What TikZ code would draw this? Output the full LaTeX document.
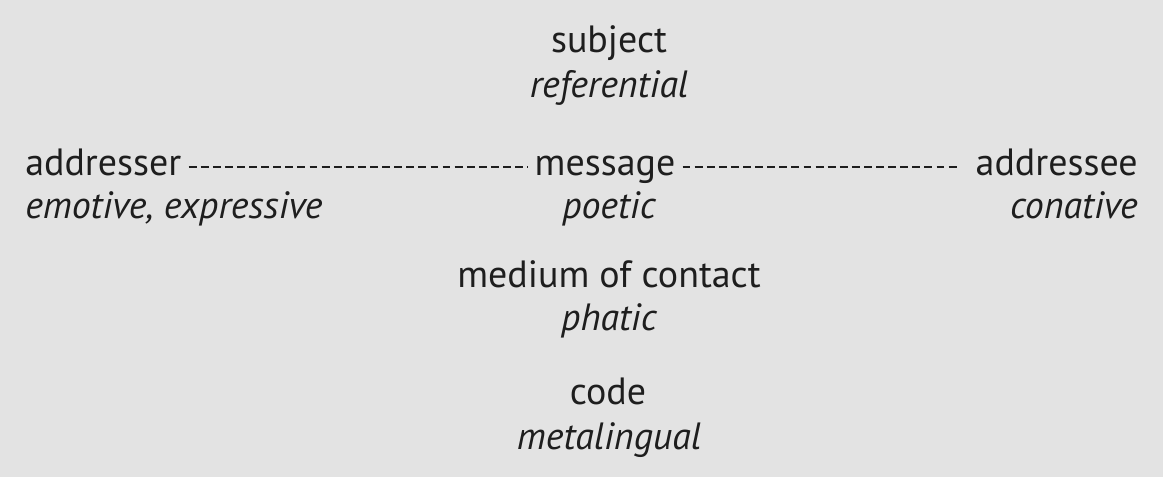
\documentclass[tikz,border=0pt]{standalone}
\usepackage{fontspec}
\setmainfont{PT Sans}
\usepackage{tikz}
\usetikzlibrary{positioning}
\definecolor{panelgray}{RGB}{227,227,227}
\definecolor{inkgray}{RGB}{30,30,30}
\tikzset{
  factor/.style={inner sep=0pt,anchor=base,text=inkgray,font=\fontsize{27}{30}\selectfont},
  function/.style={factor,font=\fontsize{27}{30}\selectfont\itshape},
  link/.style={inkgray,line width=1.6pt,dash pattern=on 5.6pt off 3pt}
}

\begin{document}
\begin{tikzpicture}[x=0.025cm,y=-0.025cm]
% panel
\fill[panelgray] (0,0) rectangle (1163,477);
\useasboundingbox (0,0) rectangle (1163,477);
% top
\node[factor] (subj) at (609,53) {subject};
\node[function] (ref) at (609,98) {referential};
% middle row
\node[factor,anchor=base west] (adr) at (25,176) {addresser};
\node[factor] (msg) at (605,176) {message};
\node[factor,anchor=base east] (ade) at (1138,176) {addressee};
\node[function,anchor=base west] (emo) at (25,219) {emotive, expressive};
\node[function] (poe) at (609,219) {poetic};
\node[function,anchor=base east] (con) at (1138,219) {conative};
\draw[link] ([xshift=5pt]adr.east|-0,167) -- ([xshift=-5pt]msg.west|-0,167);
\draw[link] ([xshift=5pt]msg.east|-0,167) -- ([xshift=-12pt]ade.west|-0,167);
% bottom
\node[factor] (med) at (609,288) {medium of contact};
\node[function] (pha) at (609,331) {phatic};
\node[factor] (cod) at (608,405) {code};
\node[function] (met) at (609,450) {metalingual};
\end{tikzpicture}
\end{document}
